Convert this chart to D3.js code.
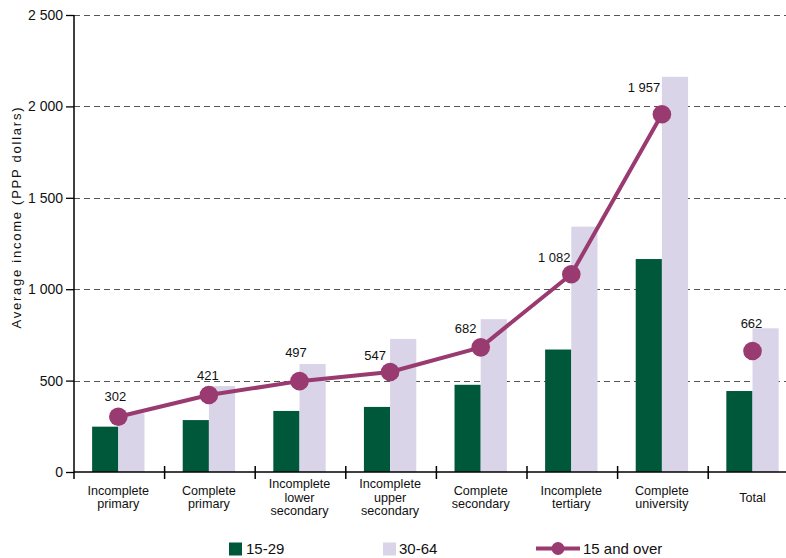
<!DOCTYPE html>
<html>
<head>
<meta charset="utf-8">
<script src="https://cdn.jsdelivr.net/npm/d3@7"></script>
<style>
  html, body { margin: 0; padding: 0; background: #fff; }
  svg { display: block; font-family: "Liberation Sans", Arial, sans-serif; }
</style>
</head>
<body>
<svg id="chart" width="786" height="558"></svg>
<script>
// ---- data ----
const categories = [
  ["Incomplete", "primary"],
  ["Complete", "primary"],
  ["Incomplete", "lower", "secondary"],
  ["Incomplete", "upper", "secondary"],
  ["Complete", "secondary"],
  ["Incomplete", "tertiary"],
  ["Complete", "university"],
  ["Total"]
];
const series = ["15-29", "30-64"];
const values1529 = [248, 284, 334, 356, 477, 670, 1165, 443];
const values3064 = [321, 470, 591, 728, 836, 1342, 2162, 786];
const values15over = [302, 421, 497, 547, 682, 1082, 1957, 662];
const valueLabels = ["302", "421", "497", "547", "682", "1 082", "1 957", "662"];
const yTicks = [0, 500, 1000, 1500, 2000, 2500];
const yTickLabels = ["0", "500", "1 000", "1 500", "2 000", "2 500"];
const yTitle = "Average income (PPP dollars)";
const lineName = "15 and over";

// ---- layout ----
(function () {
const colors = { "15-29": "#00583a", "30-64": "#d9d4e8", line: "#993a70" };
const svg = d3.select("#chart");
const mLeft = 74, mTop = 15, mBottom = 472, step = 90.6;

const x = d3.scaleBand().domain(d3.range(categories.length))
  .range([mLeft, mLeft + step * categories.length]).paddingInner(0).paddingOuter(0);
const bw = x.bandwidth();
const x1 = d3.scaleBand().domain(series).range([bw * 0.2, bw * 0.778]).padding(0);
const y = d3.scaleLinear().domain([0, 2500]).range([mBottom, mTop]);
const cx = i => x(i) + x1("30-64");

// grid
svg.append("g").selectAll("line").data(yTicks.filter(d => d > 0)).join("line")
  .attr("x1", mLeft).attr("x2", 786)
  .attr("y1", d => Math.round(y(d)) + 0.5).attr("y2", d => Math.round(y(d)) + 0.5)
  .attr("stroke", "#555").attr("stroke-width", 1).attr("stroke-dasharray", "6,4");

// bars
const groups = svg.append("g").selectAll("g").data(categories).join("g")
  .attr("transform", (d, i) => `translate(${x(i)},0)`);
groups.append("rect")
  .attr("x", x1("15-29")).attr("width", x1.bandwidth())
  .attr("y", (d, i) => y(values1529[i])).attr("height", (d, i) => mBottom - y(values1529[i]))
  .attr("fill", colors["15-29"]);
groups.append("rect")
  .attr("x", x1("30-64")).attr("width", x1.bandwidth())
  .attr("y", (d, i) => y(values3064[i])).attr("height", (d, i) => mBottom - y(values3064[i]))
  .attr("fill", colors["30-64"]);

// y axis
const yAxis = d3.axisLeft(y).tickValues(yTicks)
  .tickFormat((d, i) => yTickLabels[i]).tickSizeOuter(0).tickSizeInner(8).tickPadding(3);
const yg = svg.append("g").attr("transform", `translate(${mLeft},0)`).call(yAxis);
yg.select(".domain").remove();
yg.selectAll(".tick line").attr("stroke", "#000").attr("stroke-width", 1.3);
yg.selectAll(".tick text").attr("font-size", 14).attr("fill", "#111")
  .attr("font-family", "Liberation Sans, Arial, sans-serif");
svg.append("line").attr("x1", mLeft).attr("x2", mLeft).attr("y1", mTop).attr("y2", 479)
  .attr("stroke", "#000").attr("stroke-width", 1.5);

// x axis
svg.append("line").attr("x1", mLeft).attr("x2", 786).attr("y1", mBottom).attr("y2", mBottom)
  .attr("stroke", "#000").attr("stroke-width", 1.5);
svg.append("g").selectAll("line").data(d3.range(1, categories.length)).join("line")
  .attr("x1", i => x(i)).attr("x2", i => x(i)).attr("y1", 466).attr("y2", 479)
  .attr("stroke", "#000").attr("stroke-width", 1.5);

// category labels (one text per line)
const lh = 13.6;
const catLines = [];
categories.forEach((lines, i) => {
  const y0 = 501.5 - (lines.length - 1) * lh / 2;
  lines.forEach((s, k) => catLines.push({ i, s, yy: y0 + k * lh }));
});
svg.append("g").selectAll("text").data(catLines).join("text")
  .attr("x", d => cx(d.i)).attr("y", d => d.yy)
  .attr("text-anchor", "middle").attr("font-size", 12.6).attr("fill", "#111")
  .text(d => d.s);

// y title
svg.append("text").attr("transform", "translate(21,218) rotate(-90)")
  .attr("text-anchor", "middle").attr("font-size", 13).attr("fill", "#111")
  .attr("textLength", 221).attr("lengthAdjust", "spacing")
  .text(yTitle);

// line (first 7 categories) + markers
const nLine = 7;
const lineGen = d3.line().x(d => cx(d)).y(d => y(values15over[d]));
svg.append("path").datum(d3.range(nLine)).attr("d", lineGen)
  .attr("fill", "none").attr("stroke", colors.line).attr("stroke-width", 4)
  .attr("stroke-linejoin", "round");
svg.append("g").selectAll("circle").data(values15over).join("circle")
  .attr("cx", (d, i) => cx(i)).attr("cy", d => y(d)).attr("r", 9.3)
  .attr("fill", colors.line);

// value labels (hand-placed offsets, as in reference)
const labelOffsets = [[-3, -16], [-1, -15], [-3.5, -24], [-15, -12], [-15, -14], [-17, -12], [-18, -22], [-1, -23]];
svg.append("g").selectAll("text").data(valueLabels).join("text")
  .attr("x", (d, i) => cx(i) + labelOffsets[i][0])
  .attr("y", (d, i) => y(values15over[i]) + labelOffsets[i][1])
  .attr("text-anchor", "middle").attr("font-size", 13).attr("fill", "#111")
  .text(d => d);

// legend
const lg = svg.append("g");
lg.append("rect").attr("x", 229).attr("y", 542.5).attr("width", 13).attr("height", 13).attr("fill", colors["15-29"]);
lg.append("text").attr("x", 246).attr("y", 554).attr("font-size", 15).attr("fill", "#111").text(series[0]);
lg.append("rect").attr("x", 383).attr("y", 542.5).attr("width", 13).attr("height", 13).attr("fill", colors["30-64"]);
lg.append("text").attr("x", 399).attr("y", 554).attr("font-size", 15).attr("fill", "#111").text(series[1]);
lg.append("line").attr("x1", 536).attr("x2", 580).attr("y1", 548.5).attr("y2", 548.5)
  .attr("stroke", colors.line).attr("stroke-width", 4);
lg.append("circle").attr("cx", 558).attr("cy", 548.5).attr("r", 6.5).attr("fill", colors.line);
lg.append("text").attr("x", 583).attr("y", 554).attr("font-size", 15).attr("fill", "#111").text(lineName);
})();
</script>
</body>
</html>
